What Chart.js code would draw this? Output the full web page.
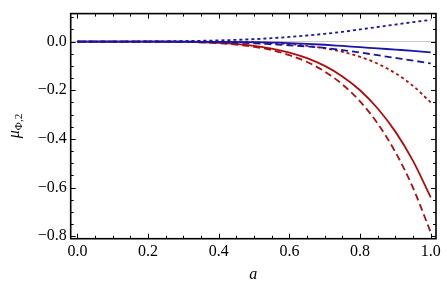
<!DOCTYPE html>
<html>
<head>
<meta charset="utf-8">
<script src="https://cdn.jsdelivr.net/npm/chart.js@4/dist/chart.umd.min.js"></script>
<style>
  html, body { margin: 0; padding: 0; background: #fff; }
  #wrap { width: 447px; height: 284px; }
</style>
</head>
<body>
<div id="wrap"><canvas id="plot"></canvas></div>
<script>
// values
const aValues = [0, 0.1, 0.2, 0.3, 0.4, 0.5, 0.55, 0.6, 0.65, 0.7, 0.75, 0.8, 0.85, 0.9, 0.95, 1.0];

const blueDotted = [0, 0, 0.0005, 0.002, 0.005, 0.010, 0.014, 0.019, 0.025, 0.032, 0.040, 0.050, 0.060, 0.070, 0.080, 0.089];
const blueSolid  = [0, 0, 0, -0.0003, -0.001, -0.002, -0.004, -0.006, -0.009, -0.013, -0.018, -0.023, -0.028, -0.033, -0.038, -0.044];
const blueDashed = [0, 0, 0, -0.0005, -0.003, -0.007, -0.011, -0.015, -0.020, -0.026, -0.035, -0.045, -0.056, -0.067, -0.078, -0.090];
const redDotted  = [0, 0, 0, -0.0001, -0.0008, -0.0034, -0.0062, -0.0105, -0.0173, -0.0274, -0.042, -0.0627, -0.091, -0.130, -0.182, -0.250];
const redSolid   = [0, 0, -0.0002, -0.0012, -0.0055, -0.0174, -0.0286, -0.045, -0.068, -0.100, -0.143, -0.200, -0.275, -0.370, -0.490, -0.640];
const redDashed  = [0, 0, -0.0002, -0.0015, -0.0068, -0.0215, -0.035, -0.056, -0.084, -0.123, -0.176, -0.246, -0.337, -0.454, -0.601, -0.784];

const xTicks = [0, 0.2, 0.4, 0.6, 0.8, 1.0];
const yTicks = [-0.8, -0.6, -0.4, -0.2, 0.0];
const xMinorStep = 0.05;
const yMinorStep = 0.05;

const BLUE = 'rgb(22,22,168)';
const RED = 'rgb(176,14,14)';
const SERIF = '"Liberation Serif", "DejaVu Serif", serif';

function pts(ys) {
    return aValues.map((a, i) => ({ x: a, y: ys[i] }));
}

function line(ys, color, dash) {
    return {
        data: pts(ys),
        borderColor: color,
        borderWidth: 1.8,
        borderDash: dash,
        pointRadius: 0,
        fill: false,
        cubicInterpolationMode: 'monotone'
    };
}

// frame with inward ticks on all four sides, plus axis titles
const framePlugin = {
    id: 'frame',
    afterDraw(chart) {
        const { ctx, chartArea: ca, scales } = chart;
        const xs = scales.x, ys = scales.y;
        ctx.save();
        ctx.strokeStyle = '#000';

        // minor + major ticks
        ctx.lineWidth = 1;
        ctx.beginPath();
        for (let v = -0.8; v <= 0.1001; v += yMinorStep) {
            const y = Math.round(ys.getPixelForValue(v)) + 0.5;
            const major = yTicks.some(t => Math.abs(t - v) < 1e-6);
            const len = major ? 5 : 3;
            ctx.moveTo(ca.left, y); ctx.lineTo(ca.left + len, y);
            ctx.moveTo(ca.right, y); ctx.lineTo(ca.right - len, y);
        }
        for (let v = 0; v <= 1.0001; v += xMinorStep) {
            const x = Math.round(xs.getPixelForValue(v)) + 0.5;
            const major = xTicks.some(t => Math.abs(t - v) < 1e-6);
            const len = major ? 5 : 3;
            ctx.moveTo(x, ca.bottom); ctx.lineTo(x, ca.bottom - len);
            ctx.moveTo(x, ca.top); ctx.lineTo(x, ca.top + len);
        }
        ctx.stroke();

        // frame
        ctx.lineWidth = 1.6;
        ctx.strokeRect(ca.left, ca.top, ca.right - ca.left, ca.bottom - ca.top);

        // x title
        ctx.fillStyle = '#000';
        ctx.font = 'italic 16px ' + SERIF;
        ctx.textAlign = 'center';
        ctx.textBaseline = 'alphabetic';
        ctx.fillText('a', (ca.left + ca.right) / 2, 279);

        // y title, rotated, with subscript
        ctx.translate(19, 126);
        ctx.rotate(-Math.PI / 2);
        ctx.textAlign = 'left';
        ctx.font = 'italic 16px ' + SERIF;
        const w1 = ctx.measureText('\u03bc').width;
        ctx.font = '11px ' + SERIF;
        const w2 = ctx.measureText('\u03a6,2').width;
        const x0 = -(w1 + w2) / 2;
        ctx.font = 'italic 16px ' + SERIF;
        ctx.fillText('\u03bc', x0, 0);
        ctx.font = '11px ' + SERIF;
        ctx.fillText('\u03a6,2', x0 + w1, 3);
        ctx.restore();
    }
};

new Chart(document.getElementById('plot'), {
    type: 'line',
    data: {
        datasets: [
            line(blueDotted, BLUE, [3, 3]),
            line(blueSolid, BLUE, []),
            line(blueDashed, BLUE, [7, 4]),
            line(redDotted, RED, [3, 3]),
            line(redSolid, RED, []),
            line(redDashed, RED, [7, 4])
        ]
    },
    options: {
        responsive: true,
        maintainAspectRatio: false,
        animation: false,
        events: [],
        layout: { padding: { left: 0, right: 11, top: 13, bottom: 0 } },
        plugins: { legend: { display: false }, tooltip: { enabled: false } },
        scales: {
            x: {
                type: 'linear',
                min: -0.019,
                max: 1.015,
                afterFit(s) { s.height = 45.3; },
                afterBuildTicks(s) { s.ticks = xTicks.map(v => ({ value: v })); },
                border: { display: false },
                grid: { display: false, drawTicks: false },
                ticks: {
                    padding: 3,
                    color: '#000',
                    font: { family: SERIF, size: 16 },
                    maxRotation: 0,
                    callback: v => v.toFixed(1)
                }
            },
            y: {
                type: 'linear',
                min: -0.81,
                max: 0.115,
                afterFit(s) { s.width = 70.7; },
                afterBuildTicks(s) { s.ticks = yTicks.map(v => ({ value: v })); },
                border: { display: false },
                grid: {
                    drawTicks: false,
                    lineWidth: 1,
                    color: c => (c.tick && Math.abs(c.tick.value) < 1e-9) ? 'rgb(200,200,200)' : 'rgba(0,0,0,0)'
                },
                ticks: {
                    padding: 4,
                    color: '#000',
                    font: { family: SERIF, size: 16 },
                    callback: v => (v < -1e-9 ? '\u2212' : '') + Math.abs(v).toFixed(1)
                }
            }
        }
    },
    plugins: [framePlugin]
});
</script>
</body>
</html>
